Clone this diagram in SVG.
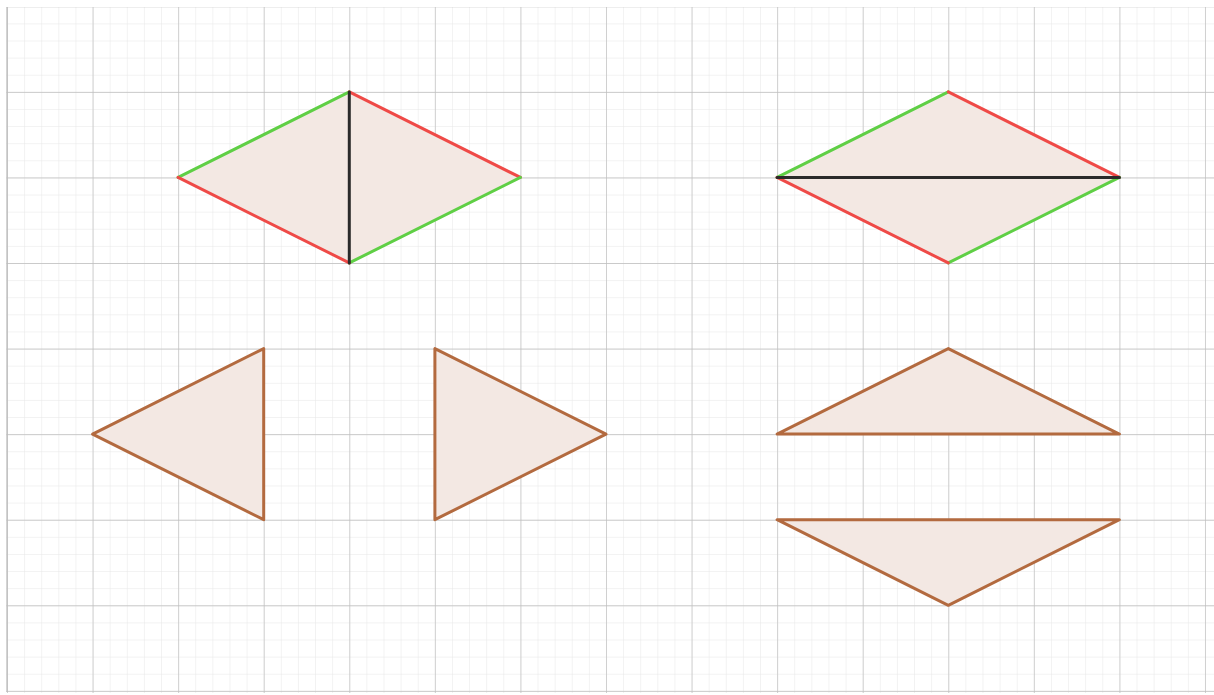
<svg xmlns="http://www.w3.org/2000/svg" width="1214" height="695" viewBox="0 0 1214 695">
<style>
.fill{fill:#f3e8e3;stroke:none}
.g{stroke:#5fcf45;stroke-width:3;stroke-linecap:round;fill:none}
.r{stroke:#ef4a47;stroke-width:3;stroke-linecap:round;fill:none}
.k{stroke:#2a2a2a;stroke-width:3;stroke-linecap:round;fill:none}
.tri{fill:#f3e8e3;stroke:#b36a3f;stroke-width:3;stroke-linejoin:round}
</style>
<defs>
<pattern id="minor" patternUnits="userSpaceOnUse" x="7" y="6.3" width="17.114" height="17.114">
<path d="M0 0V17.114M0 0H17.114" stroke="#e6e6e6" stroke-width="1" fill="none"/>
</pattern>
<pattern id="major" patternUnits="userSpaceOnUse" x="7" y="6.3" width="85.57" height="85.57">
<path d="M0 0V85.57M0 0H85.57" stroke="#bdbdbd" stroke-width="1.3" fill="none"/>
</pattern>
</defs>
<rect width="1214" height="695" fill="#ffffff"/>
<g id="grid">
<rect x="6.5" y="7" width="1208" height="686" fill="url(#minor)"/>
<rect x="6.5" y="7" width="1208" height="686" fill="url(#major)"/>
<line x1="7" y1="7" x2="7" y2="692" stroke="#bdbdbd" stroke-width="1.3"/>
</g>
<g id="rhombus1">
<polygon class="fill" points="178.1,177.4 349.3,91.9 520.4,177.4 349.3,262.9"/>
<line class="g" x1="178.1" y1="177.4" x2="349.3" y2="91.9"/>
<line class="r" x1="349.3" y1="91.9" x2="520.4" y2="177.4"/>
<line class="g" x1="520.4" y1="177.4" x2="349.3" y2="262.9"/>
<line class="r" x1="349.3" y1="262.9" x2="178.1" y2="177.4"/>
<line class="k" x1="349.3" y1="91.9" x2="349.3" y2="262.9"/>
</g>
<g id="rhombus2">
<polygon class="fill" points="777.1,177.4 948.3,91.9 1119.4,177.4 948.3,262.9"/>
<line class="g" x1="777.1" y1="177.4" x2="948.3" y2="91.9"/>
<line class="r" x1="948.3" y1="91.9" x2="1119.4" y2="177.4"/>
<line class="g" x1="1119.4" y1="177.4" x2="948.3" y2="262.9"/>
<line class="r" x1="948.3" y1="262.9" x2="777.1" y2="177.4"/>
<line class="k" x1="777.1" y1="177.4" x2="1119.4" y2="177.4"/>
</g>
<g id="tri1"><polygon class="tri" points="92.6,434.1 263.7,348.6 263.7,519.7"/></g>
<g id="tri2"><polygon class="tri" points="434.9,348.6 434.9,519.7 606,434.1"/></g>
<g id="tri3"><polygon class="tri" points="777.1,434.1 948.3,348.6 1119.4,434.1"/></g>
<g id="tri4"><polygon class="tri" points="777.1,519.7 1119.4,519.7 948.3,605.3"/></g>
</svg>
